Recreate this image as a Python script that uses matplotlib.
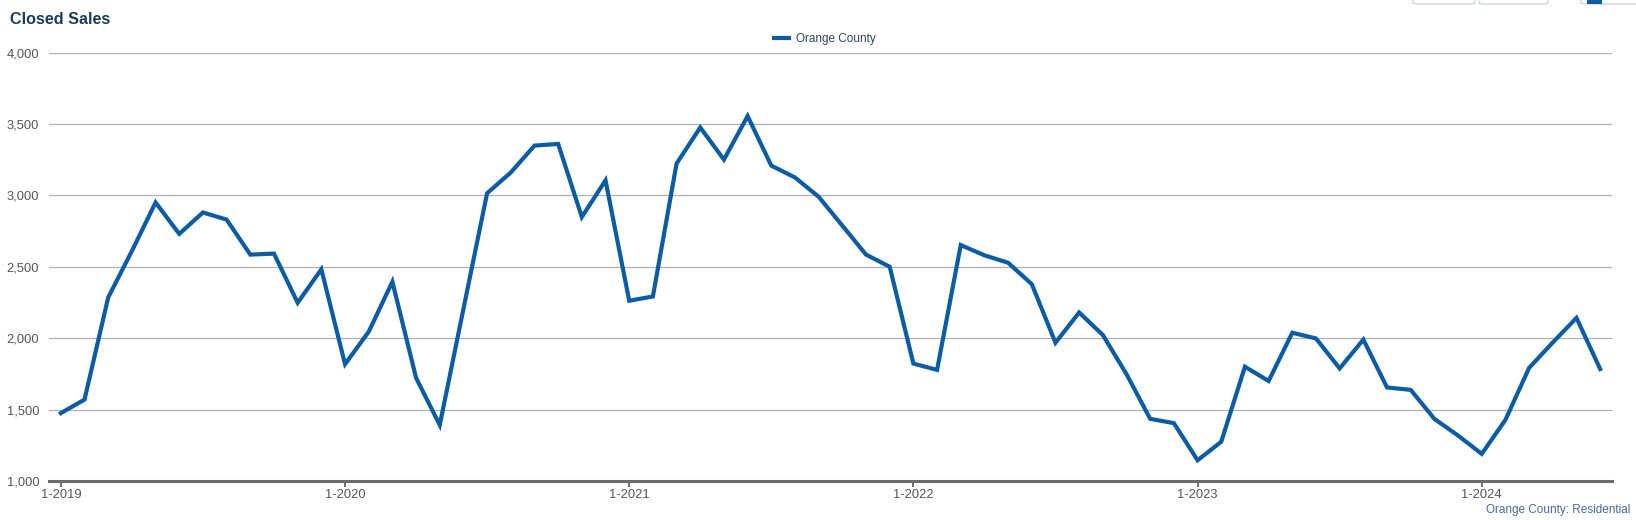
import matplotlib
matplotlib.use('Agg')
import matplotlib.pyplot as plt
from matplotlib.patches import FancyBboxPatch, Rectangle
from matplotlib.ticker import FuncFormatter

# monthly closed sales, 1-2019 .. 6-2024
months = list(range(66))
closed_sales = [1475, 1570, 2285, 2610, 2950, 2730, 2880, 2830, 2585, 2592, 2248, 2482,
                1818, 2045, 2395, 1722, 1392, 2205, 3015, 3160, 3348, 3360, 2848, 3105,
                2262, 2292, 3222, 3475, 3250, 3555, 3208, 3125, 2990, 2788, 2585, 2500,
                1822, 1778, 2652, 2580, 2528, 2378, 1968, 2180, 2022, 1748, 1435, 1405,
                1145, 1275, 1800, 1700, 2038, 1998, 1788, 1990, 1655, 1638, 1435, 1318,
                1190, 1428, 1792, 1970, 2142, 1784]
year_ticks = [0, 12, 24, 36, 48, 60]
year_labels = ['1-2019', '1-2020', '1-2021', '1-2022', '1-2023', '1-2024']
y_ticks = [1000, 1500, 2000, 2500, 3000, 3500, 4000]

plt.rcParams['font.family'] = ['Liberation Sans', 'DejaVu Sans']

fig = plt.figure(figsize=(16.36, 5.2), dpi=100)
ax = fig.add_axes([49 / 1636, 1 - 481 / 520, (1612 - 49) / 1636, (481 - 52.5) / 520])

line_color = '#0b5ca4'
ax.plot(months, closed_sales, color=line_color, lw=3.0, solid_joinstyle='miter',
        label='Orange County', zorder=3)

ax.set_xlim(-0.5, 65.5)
ax.set_ylim(1000, 4000)
ax.set_yticks(y_ticks)
ax.yaxis.set_major_formatter(FuncFormatter(lambda v, p: f'{int(v):,}'))
ax.set_xticks(year_ticks)
ax.set_xticklabels(year_labels)

ax.grid(axis='y', color='#b0b0b0', lw=0.9)
ax.set_axisbelow(True)
for s in ['top', 'right', 'left']:
    ax.spines[s].set_visible(False)
ax.spines['bottom'].set_color('#6b6b6b')
ax.spines['bottom'].set_linewidth(2.2)
ax.tick_params(axis='y', length=0, pad=7, labelsize=9.3, labelcolor='#555555')
ax.tick_params(axis='x', length=4, width=1.4, color='#6b6b6b', pad=2,
               labelsize=9.3, labelcolor='#555555')

fig.text(10 / 1636, 1 - 19 / 520, 'Closed Sales', fontsize=11.6, fontweight='bold',
         color='#1d3b5a', va='center', ha='left')

ax.legend(loc='center', bbox_to_anchor=(825 / 1636, 1 - 39 / 520),
          bbox_transform=fig.transFigure, frameon=False, fontsize=8.5,
          handlelength=1.3, handletextpad=0.6, labelcolor='#2e4560')

fig.text(1630 / 1636, 1 - 510 / 520, 'Orange County: Residential', fontsize=8.5,
         color='#4a6a9a', ha='right', va='center')

# cropped toolbar buttons at the top right
for x0, x1 in [(1413, 1475), (1479, 1548), (1581, 1640)]:
    fig.patches.append(FancyBboxPatch((x0 / 1636, 1 - 4 / 520), (x1 - x0) / 1636, 8 / 520,
                                      boxstyle='round,pad=0,rounding_size=0.003',
                                      transform=fig.transFigure, fc='white',
                                      ec='#c8ccd2', lw=0.8))
fig.patches.append(Rectangle((1587 / 1636, 1 - 4 / 520), 15 / 1636, 4 / 520,
                             transform=fig.transFigure, fc=line_color, ec='none'))

fig.savefig('out.png', dpi=100)
